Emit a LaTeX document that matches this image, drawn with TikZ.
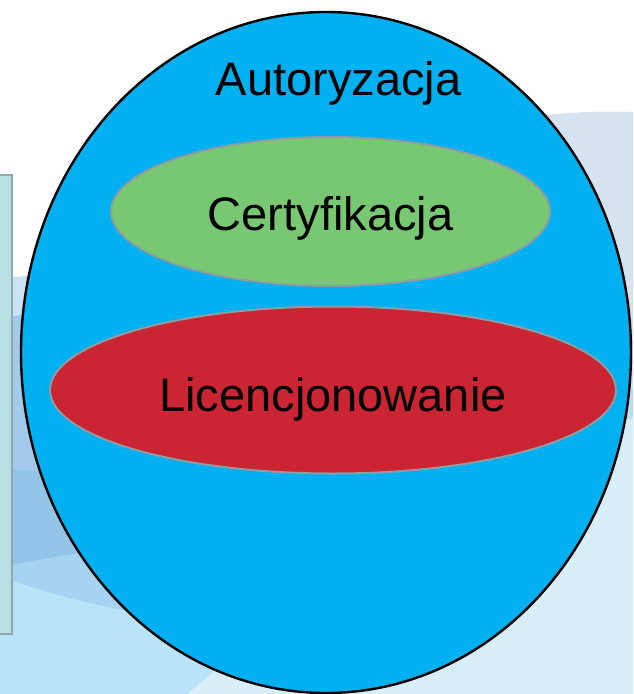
\documentclass[tikz,border=0pt]{standalone}
\usepackage{fontspec}
\setmainfont{Liberation Sans}
\usetikzlibrary{shapes.geometric}
\definecolor{swR}{HTML}{D6E2F0}
\definecolor{swRband}{HTML}{BEDBF2}
\definecolor{swLight}{HTML}{D8EEFA}
\definecolor{swL0}{HTML}{C9E3F5}
\definecolor{swL1}{HTML}{A2CAEA}
\definecolor{swL2}{HTML}{92C5E8}
\definecolor{swL3}{HTML}{A5D3F1}
\definecolor{swL4}{HTML}{B9E3F8}
\definecolor{autblue}{HTML}{00B0F0}
\definecolor{certgreen}{HTML}{77C773}
\definecolor{licred}{HTML}{CB2432}
\definecolor{ringgray}{HTML}{8E9CA4}
\definecolor{boxfill}{HTML}{B8DFE2}
\definecolor{boxline}{HTML}{8FA8AB}
\tikzset{
  bigtext/.style={font=\fontsize{47}{56}\selectfont, text=black},
  inner/.style={ellipse, draw=ringgray, line width=2pt, inner sep=0pt, bigtext, text depth=0pt}
}
\begin{document}
\begin{tikzpicture}[x=1pt,y=-1pt]
\useasboundingbox (0,0) rectangle (633,694);
\fill[white] (0,0) rectangle (633,694);
\begin{scope}
\clip (0,0) rectangle (633,694);
% right upper swoosh
\fill[swR] (460,128) .. controls (530,114) and (590,110) .. (633,112) -- (633,440) -- (460,440) -- cycle;
% left swoosh layers
\fill[swL0] (0,279) .. controls (120,262) and (260,262) .. (380,285) -- (380,700) -- (0,700) -- cycle;
\fill[swL1] (0,318) .. controls (120,300) and (260,300) .. (380,320) -- (380,700) -- (0,700) -- cycle;
\fill[swL2] (0,470) .. controls (60,470) and (120,480) .. (200,500) -- (200,700) -- (0,700) -- cycle;
\fill[swL3] (0,567) .. controls (40,560) and (80,552) .. (130,545) -- (300,560) -- (300,700) -- (0,700) -- cycle;
\fill[swL4] (0,577) .. controls (40,590) and (80,603) .. (125,610) .. controls (200,625) and (300,660) .. (330,694) -- (0,700) -- cycle;
% right lower band and light area
\fill[swRband] (380,520) .. controls (470,440) and (560,400) .. (633,390) -- (633,700) -- (380,700) -- cycle;
\fill[swLight] (180,700) .. controls (300,600) and (460,455) .. (633,418) -- (633,700) -- cycle;
\end{scope}
% left box
\node[rectangle, fill=boxfill, draw=boxline, line width=2pt, minimum width=20pt, minimum height=459pt, inner sep=0pt] (box) at (2,404.5) {};
% outer ellipse
\node[ellipse, fill=autblue, draw=black, line width=2.4pt, minimum width=610pt, minimum height=681pt, inner sep=0pt] (aut) at (326,352.5) {};
\node[bigtext, anchor=base] (autlabel) at (338.5,95) {Autoryzacja};
% inner ellipses
\node[inner, fill=certgreen, minimum width=439pt, minimum height=149pt, text height=37pt] (cert) at (330.5,211.5) {Certyfikacja};
\node[inner, fill=licred, minimum width=566pt, minimum height=167pt, text height=42pt] (lic) at (333,390) {Licencjonowanie};
\end{tikzpicture}
\end{document}
